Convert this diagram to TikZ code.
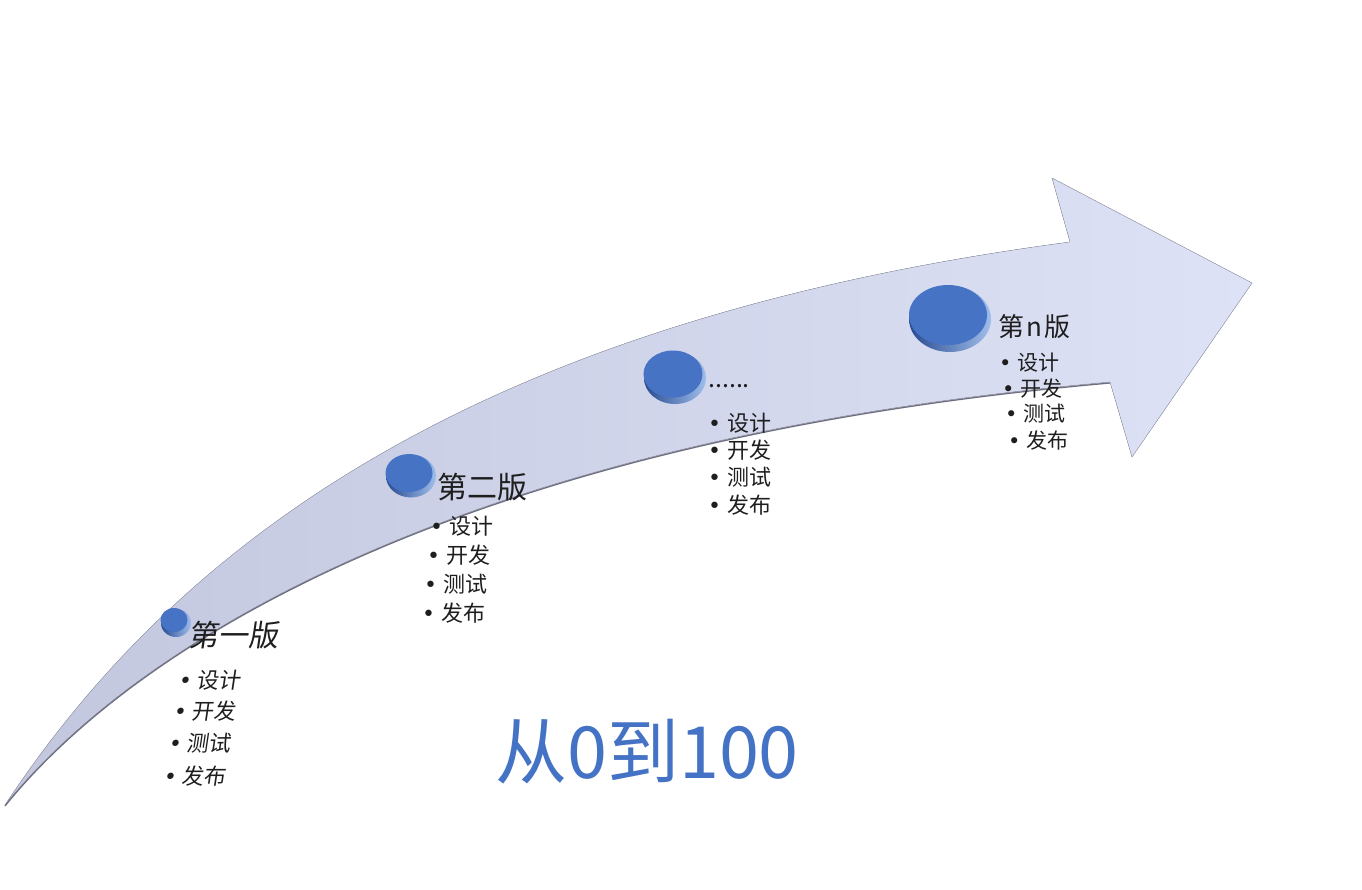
\documentclass[tikz,border=0pt]{standalone}
\usepackage{fontspec}
\setmainfont{Noto Sans CJK SC}
\newfontfamily\bulfont{DejaVu Sans}
\newcommand{\bul}{{\bulfont •}\hspace{6pt}}
\usetikzlibrary{shapes.geometric}
\definecolor{band}{RGB}{195,199,222}
\definecolor{bandlight}{RGB}{222,226,246}
\definecolor{bandedge}{RGB}{110,112,130}
\definecolor{disc}{RGB}{70,115,196}
\definecolor{discdark}{RGB}{40,75,145}
\definecolor{discrim}{RGB}{160,190,235}
\definecolor{titleblue}{RGB}{68,114,196}
\definecolor{ink}{RGB}{30,30,30}

\begin{document}
\begin{tikzpicture}[x=1pt, y=-1pt,
  base/.style={ellipse, inner sep=0pt, left color=discdark, right color=discrim},
  face/.style={ellipse, inner sep=0pt, fill=disc},
  head/.style={anchor=west, inner sep=0pt, text=ink, font=\fontsize{30}{30}\selectfont},
  item/.style={anchor=west, inner sep=0pt, text=ink, font=\fontsize{22}{22}\selectfont},
  tilt/.style={xslant=0.15, transform shape},
]
  \useasboundingbox (0,0) rectangle (1362,889);

  \fill[left color=band, right color=bandlight, draw=band!80!black, line width=0.4]
    (5,805) .. controls (180,540) and (480,320) .. (1070,242)
    -- (1052,178) -- (1252,283) -- (1132,457) -- (1110,382)
    .. controls (450,440) and (130,650) .. (5,805) -- cycle;
  \draw[bandedge, line width=1.3]
    (1110,383) .. controls (450,441) and (130,651) .. (5,806);

  \node[base, minimum width=30, minimum height=28] (v1base) at (176,623) {};
  \node[face, minimum width=27, minimum height=24] (v1face) at (174,620) {};
  \node[base, minimum width=50, minimum height=43] (v2base) at (411,476) {};
  \node[face, minimum width=47, minimum height=38] (v2face) at (409,473) {};
  \node[base, minimum width=62, minimum height=52] (v3base) at (675,378) {};
  \node[face, minimum width=59, minimum height=47] (v3face) at (673,374) {};
  \node[base, minimum width=82, minimum height=66] (vnbase) at (950,319) {};
  \node[face, minimum width=78, minimum height=60] (vnface) at (948,315) {};

  \node[head, tilt] (v1title) at (190,635) {第一版};
  \node[item, tilt] (v1design)  at (179,680) {\bul 设计};
  \node[item, tilt] (v1dev)     at (174,711) {\bul 开发};
  \node[item, tilt] (v1test)    at (169,743) {\bul 测试};
  \node[item, tilt] (v1release) at (164,776) {\bul 发布};

  \node[head] (v2title) at (437,487) {第二版};
  \node[item] (v2design)  at (430,526) {\bul 设计};
  \node[item] (v2dev)     at (427,555) {\bul 开发};
  \node[item] (v2test)    at (424,584) {\bul 测试};
  \node[item] (v2release) at (422,613) {\bul 发布};

  \node[item, anchor=base west, font=\fontsize{25}{25}\selectfont] (v3title) at (708,387) {......};
  \node[item] (v3design)  at (708,423) {\bul 设计};
  \node[item] (v3dev)     at (708,450) {\bul 开发};
  \node[item] (v3test)    at (708,477) {\bul 测试};
  \node[item] (v3release) at (708,505) {\bul 发布};

  \node[head, font=\fontsize{26}{26}\selectfont] (vntitle) at (998,327) {第\hspace{2pt}n\hspace{2pt}版};
  \node[item, font=\fontsize{21}{21}\selectfont] (vndesign)  at (999,363) {\bul 设计};
  \node[item, font=\fontsize{21}{21}\selectfont] (vndev)     at (1002,389) {\bul 开发};
  \node[item, font=\fontsize{21}{21}\selectfont] (vntest)    at (1005,414) {\bul 测试};
  \node[item, font=\fontsize{21}{21}\selectfont] (vnrelease) at (1008,441) {\bul 发布};

  \node[text=titleblue, font=\fontsize{72}{72}\selectfont] (goal) at (647,752) {从0到100};
\end{tikzpicture}
\end{document}
